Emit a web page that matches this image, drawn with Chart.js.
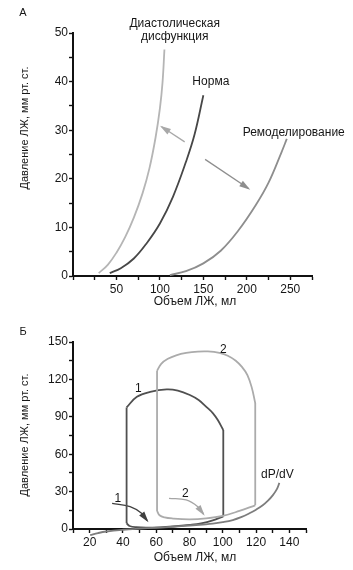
<!DOCTYPE html>
<html><head><meta charset="utf-8">
<script src="https://cdn.jsdelivr.net/npm/chart.js@4/dist/chart.umd.min.js"></script>
<style>
html,body{margin:0;padding:0;background:#fff;}
#wrap{position:relative;width:353px;height:570px;overflow:hidden;background:#fff;}
canvas{position:absolute;left:0;}
#cA{top:0}
#cB{top:310px}
</style></head><body>
<div id="wrap"><canvas id="cA" width="353" height="310"></canvas><canvas id="cB" width="353" height="260"></canvas></div>
<script>
const FONT = "'Liberation Sans', Arial, Helvetica, sans-serif";

// ---------- Panel A data ----------
const aXTicksLabelled = [50, 100, 150, 200, 250];
const aYTicksLabelled = [0, 10, 20, 30, 40, 50];
const diastolicVol = [29.6, 40, 50, 60, 70, 80, 88, 95, 100, 103, 105.2];
const diastolicP   = [0.6, 2.3, 4.8, 8, 12, 17, 22.2, 28.5, 34.5, 39.8, 46.6];
const normVol = [42.3, 55, 70, 85, 100, 115, 130, 140, 150];
const normP   = [0.6, 1.6, 3.6, 6.8, 10.8, 16.3, 23.5, 29.2, 37.2];
const remodVol = [111.5, 130, 150, 170, 190, 210, 225, 240, 246];
const remodP   = [0.2, 1, 2.6, 5.2, 9.3, 14.5, 19.2, 25.5, 28.2];
const arrowLeftVol = [128.5, 102];
const arrowLeftP   = [27.6, 30.7];
const arrowRightVol = [152, 202];
const arrowRightP   = [24, 18];

// ---------- Panel B data ----------
const bXTicksLabelled = [20, 40, 60, 80, 100, 120, 140];
const bYTicksLabelled = [0, 30, 60, 90, 120, 150];
const loop1LeftVol = [42.2, 42.2];
const loop1LeftP   = [4.6, 97.5];
const loop1TopVol = [42.2, 48.4, 56.4, 66.3, 73, 80.2, 85.5, 90.1, 94, 97, 100.3];
const loop1TopP   = [97.5, 106, 110, 112, 111, 107.5, 103.5, 98, 93, 87.4, 79.4];
const loop1RightVol = [100.3, 100.3];
const loop1RightP   = [79.4, 10.2];
const loop1BottomVol = [42.2, 44, 48, 55, 62, 70, 80, 87, 94, 100.3];
const loop1BottomP   = [4.6, 2.4, 1.4, 1.1, 1.3, 2, 3.3, 4.6, 7, 10.2];
const loop2LeftVol = [60.5, 60.5];
const loop2LeftP   = [14.5, 127];
const loop2TopVol = [60.5, 63, 67, 72, 78, 85, 91, 98, 103, 107.8, 111.5, 114.8, 117.5, 119.5];
const loop2TopP   = [127, 132.5, 136.5, 139.3, 141.2, 142.3, 142.4, 141.2, 139, 135, 130, 123.5, 113, 101];
const loop2RightVol = [119.5, 119.5];
const loop2RightP   = [101, 19];
const loop2BottomVol = [60.5, 62, 65, 70, 80, 90, 100, 110, 119.5];
const loop2BottomP   = [14.5, 11, 9.3, 8.4, 7.8, 8.5, 10.5, 14.5, 19];
const dpdvVol = [20.3, 25, 30, 40, 50, 60, 70, 80, 88, 94, 100, 106, 111, 116, 120, 124, 127, 130, 132.5, 134];
const dpdvP   = [-5, -3.3, -2, -0.6, 0.3, 1, 1.8, 2.8, 3.6, 4.3, 5.5, 7.2, 9.5, 12.6, 15.5, 19, 22.5, 27, 32, 37];
const arrow1Vol = [33.5, 44.3, 51.2, 54.6];
const arrow1P   = [20.6, 17.9, 12.6, 6.7];
const arrow2Vol = [67.7, 78, 85, 88.4];
const arrow2P   = [24.6, 23.3, 17.9, 12];

function pts(xs, ys) { return xs.map((x, i) => ({x: x, y: ys[i]})); }

function curve(xs, ys, color, opts) {
  return Object.assign({
    data: pts(xs, ys), borderColor: color, borderWidth: 1.8, pointRadius: 0,
    fill: false, tension: 0.4, clip: false
  }, opts || {});
}
function straight(xs, ys, color, opts) {
  return Object.assign({
    data: pts(xs, ys), borderColor: color, borderWidth: 1.8, pointRadius: 0,
    fill: false, tension: 0, clip: false
  }, opts || {});
}

const annotPlugin = {
  id: 'annot',
  afterDatasetsDraw(chart) {
    const ctx = chart.ctx;
    chart.data.datasets.forEach((ds, i) => {
      if (!ds.arrow) return;
      const meta = chart.getDatasetMeta(i);
      const d = meta.data;
      const last = d[d.length - 1];
      let fx = d[d.length - 2].x, fy = d[d.length - 2].y;
      if (last.cp1x !== undefined && (Math.abs(last.cp1x - last.x) + Math.abs(last.cp1y - last.y)) > 0.5) {
        fx = last.cp1x; fy = last.cp1y;
      }
      const ang = Math.atan2(last.y - fy, last.x - fx);
      const L = 9, W = 3.2;
      ctx.save();
      ctx.fillStyle = ds.borderColor;
      ctx.translate(last.x, last.y);
      ctx.rotate(ang);
      ctx.beginPath();
      ctx.moveTo(2, 0);
      ctx.lineTo(-L, -W);
      ctx.lineTo(-L, W);
      ctx.closePath();
      ctx.fill();
      ctx.restore();
    });
  },
  afterDraw(chart) {
    const o = chart.options.plugins.annot;
    if (!o) return;
    const ctx = chart.ctx;
    const xs = chart.scales.x, ys = chart.scales.y;
    ctx.save();
    ctx.fillStyle = '#161616';
    ctx.textAlign = 'center';
    ctx.textBaseline = 'middle';
    (o.dataTexts || []).forEach(t => {
      ctx.font = (t.size || 12) + 'px ' + FONT;
      ctx.fillText(t.text, xs.getPixelForValue(t.x), ys.getPixelForValue(t.y));
    });
    (o.fixedTexts || []).forEach(t => {
      ctx.save();
      ctx.font = (t.size || 12) + 'px ' + FONT;
      ctx.translate(t.px, t.py);
      if (t.rot) ctx.rotate(t.rot);
      ctx.fillText(t.text, 0, 0);
      ctx.restore();
    });
    ctx.restore();
  }
};

function axisCommon(min, max, step, labelled, size, isX, fitSize, pad) {
  return {
    type: 'linear', min: min, max: max,
    ticks: {
      stepSize: step, autoSkip: false, maxRotation: 0, minRotation: 0,
      padding: pad, color: '#161616', font: {family: FONT, size: size},
      callback: v => labelled.includes(v) ? String(v) : ''
    },
    grid: {display: true, drawOnChartArea: false, drawTicks: true, tickLength: 4, tickWidth: 1.4, tickColor: '#111'},
    border: {display: true, color: '#111', width: 2},
    afterFit: s => { if (isX) s.height = fitSize; else s.width = fitSize; }
  };
}

// ---------- Chart A ----------
new Chart(document.getElementById('cA'), {
  type: 'line',
  data: {
    datasets: [
      curve(diastolicVol, diastolicP, '#b5b5b5'),
      curve(normVol, normP, '#474747'),
      curve(remodVol, remodP, '#8e8e8e'),
      straight(arrowLeftVol, arrowLeftP, '#a8a8a8', {borderWidth: 1.3, arrow: true}),
      straight(arrowRightVol, arrowRightP, '#8e8e8e', {borderWidth: 1.3, arrow: true})
    ]
  },
  options: {
    responsive: false, animation: false, events: [],
    layout: {padding: {top: 33, right: 41, left: 0, bottom: 0}},
    plugins: {
      legend: {display: false}, tooltip: {enabled: false},
      annot: {
        dataTexts: [
          {text: 'Диастолическая', x: 117, y: 51.9},
          {text: 'дисфункция', x: 117, y: 49.2},
          {text: 'Норма', x: 158.6, y: 40},
          {text: 'Ремоделирование', x: 254, y: 29.4}
        ],
        fixedTexts: [
          {text: 'А', px: 23, py: 13, size: 11},
          {text: 'Давление ЛЖ, мм рт. ст.', px: 25, py: 128, size: 11, rot: -Math.PI / 2},
          {text: 'Объем ЛЖ, мл', px: 195, py: 302, size: 12}
        ]
      }
    },
    scales: {
      x: axisCommon(0, 275, 25, aXTicksLabelled, 12, true, 34, 2),
      y: axisCommon(0, 50, 5, aYTicksLabelled, 12, false, 73, 1)
    }
  },
  plugins: [annotPlugin]
});

// ---------- Chart B ----------
new Chart(document.getElementById('cB'), {
  type: 'line',
  data: {
    datasets: [
      curve(dpdvVol, dpdvP, '#7d7d7d'),
      curve(loop2BottomVol, loop2BottomP, '#ababab'),
      straight(loop2LeftVol, loop2LeftP, '#ababab'),
      curve(loop2TopVol, loop2TopP, '#ababab'),
      straight(loop2RightVol, loop2RightP, '#ababab'),
      curve(loop1BottomVol, loop1BottomP, '#505050'),
      straight(loop1LeftVol, loop1LeftP, '#505050'),
      curve(loop1TopVol, loop1TopP, '#505050'),
      straight(loop1RightVol, loop1RightP, '#505050'),
      curve(arrow1Vol, arrow1P, '#404040', {borderWidth: 1.4, arrow: true}),
      curve(arrow2Vol, arrow2P, '#a5a5a5', {borderWidth: 1.4, arrow: true})
    ]
  },
  options: {
    responsive: false, animation: false, events: [],
    layout: {padding: {top: 32, right: 47, left: 0, bottom: 0}},
    plugins: {
      legend: {display: false}, tooltip: {enabled: false},
      annot: {
        dataTexts: [
          {text: '1', x: 37, y: 24.6},
          {text: '2', x: 77.5, y: 28},
          {text: '1', x: 49.2, y: 112.5},
          {text: '2', x: 100.3, y: 144},
          {text: 'dP/dV', x: 132.8, y: 43.3}
        ],
        fixedTexts: [
          {text: 'Б', px: 23, py: 22, size: 11},
          {text: 'Давление ЛЖ, мм рт. ст.', px: 25, py: 125, size: 11, rot: -Math.PI / 2},
          {text: 'Объем ЛЖ, мл', px: 195, py: 248, size: 12}
        ]
      }
    },
    scales: {
      x: axisCommon(10, 150, 10, bXTicksLabelled, 12, true, 41, 2),
      y: axisCommon(0, 150, 15, bYTicksLabelled, 12, false, 73, 1)
    }
  },
  plugins: [annotPlugin]
});
</script>
</body></html>
